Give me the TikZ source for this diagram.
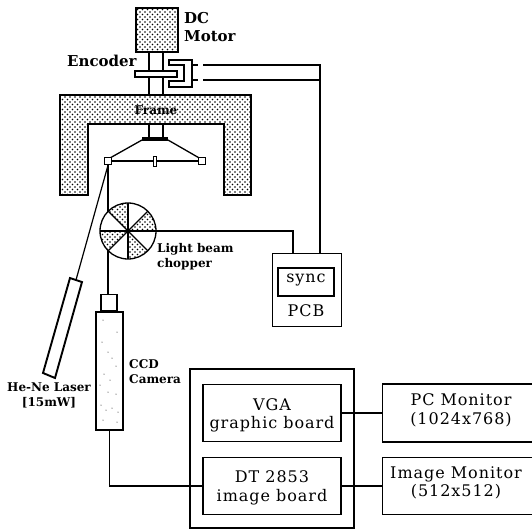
\documentclass[tikz,border=0pt]{standalone}
\usepackage{fontspec}
\setmainfont{DejaVu Serif}
\usetikzlibrary{patterns}
\pgfdeclarepatternformonly{coarsedots}{\pgfqpoint{-1pt}{-1pt}}{\pgfqpoint{5pt}{5pt}}{\pgfqpoint{5pt}{5pt}}{%
  \pgfpathcircle{\pgfqpoint{0pt}{0pt}}{0.85pt}%
  \pgfpathcircle{\pgfqpoint{2.5pt}{2.5pt}}{0.85pt}%
  \pgfusepath{fill}}
\tikzset{
  x=1pt,y=-1pt,
  heavy/.style={draw=black,line width=1.9pt},
  mid/.style={draw=black,line width=1.3pt},
  wire/.style={draw=black,line width=1.2pt},
  dots/.style={pattern=coarsedots,pattern color=black},
  lab/.style={inner sep=0pt,align=left,font=\bfseries\fontsize{12}{15}\selectfont},
  biglab/.style={inner sep=0pt,align=left,font=\bfseries\fontsize{15}{18}\selectfont},
  big/.style={inner sep=0pt,align=center,font=\fontsize{16}{18.5}\selectfont\addfontfeature{LetterSpace=6}},
}
\begin{document}
\begin{tikzpicture}
\useasboundingbox (0,0) rectangle (532,532);
% motor
\draw[heavy,dots] (136,8) rectangle (178,52);
\draw[mid] (149,52) -- (149,94) (163,52) -- (163,94);
% sensor
\draw[mid,fill=white] (169,60) -- (192,60) -- (192,87) -- (169,87) -- (169,81) -- (184,81) -- (184,65) -- (169,65) -- cycle;
\draw[mid] (192,65) -- (198,65) (192,80) -- (198,80);
\draw[mid,fill=white] (135,71) rectangle (177,77);
% frame
\draw[heavy,dots] (60,95) -- (251,95) -- (251,195) -- (224,195) -- (224,124) -- (88,124) -- (88,195) -- (60,195) -- cycle;
\node[inner sep=0pt,font=\bfseries\fontsize{12}{14}\selectfont] (frm) at (156,110) {Frame};
% suspension
\draw[mid] (149,124) -- (149,138) (163,124) -- (163,138);
\fill (142,137) rectangle (168,141);
\draw[mid] (142,140) -- (110,158) (168,140) -- (201,159);
\node[draw,line width=1pt,fill=white,minimum size=7.5pt,inner sep=0pt] (sl) at (108,161) {};
\node[draw,line width=1pt,fill=white,minimum size=7pt,inner sep=0pt] (sr) at (202,161) {};
\draw[mid] (sl) -- (sr);
\draw[line width=1pt,fill=white] (153.5,156) rectangle (156.5,166);
% laser, camera
\coordinate (lastop) at (76,280);
\node[mid,fill=white,minimum width=16pt,minimum height=16pt,inner sep=0pt,anchor=south] (lens) at (109,311) {};
\draw[wire] (sl.south) -- (lastop);
\draw[wire] (sl.south) -- (lens.north -| sl.south);
\draw[heavy,fill=white] (70,278) -- (82,282) -- (55,378) -- (43,373) -- cycle;
\node[heavy,fill=white,minimum width=27pt,minimum height=118pt,inner sep=0pt,anchor=north west] (cam) at (95,311) {};
\foreach \p in {(103,320),(117,332),(102,342),(108,352),(112,358),(116,366),(104,374),(110,380),(100,385),(108,392),(116,394),(101,405),(106,410),(112,408),(118,412),(103,420),(117,422)}
  \fill \p circle (0.5);
% chopper
\begin{scope}[shift={(128,231)},y=1pt]
  \fill[white] (0,0) circle (28);
  \foreach \a in {90,0,180,270}{
    \fill[pattern=coarsedots,pattern color=black] (0,0) -- (\a:28) arc[start angle=\a,delta angle=45,radius=28] -- cycle;
  }
  \foreach \a in {0,45,...,315}{\draw[mid] (0,0) -- (\a:28);}
  \draw[mid] (0,0) circle (28);
\end{scope}
% wires
\node[draw,line width=1.3pt,minimum width=69pt,minimum height=73pt,inner sep=0pt,anchor=north west] (pcb) at (272,253) {};
\coordinate (chopr) at (156,231);
\coordinate (wa) at (203,65);
\coordinate (wb) at (203,80);
\coordinate (wc) at (320,65);
\draw[wire] (chopr) -| (pcb.north -| 293,0);
\draw[wire] (wa) -- (wc) -- (wc |- pcb.north);
\draw[wire] (wb) -- (wb -| wc);
% pcb
\node[heavy,minimum width=56pt,minimum height=28pt,inner sep=0pt] (sync) at (306,282) {};
\node[big] (synct) at (306,280) {sync};
\node[big] (pcbt) at (306,311) {PCB};
% boxes
\draw[heavy] (190,369) rectangle (354,528);
\node[heavy,minimum width=138pt,minimum height=57pt,inner sep=0pt] (vga) at (272,413) {};
\node[heavy,minimum width=138pt,minimum height=57pt,inner sep=0pt] (dt) at (272,486) {};
\node[mid,minimum width=155pt,minimum height=58pt,inner sep=0pt,anchor=west] (pc) at (382,413) {};
\node[mid,minimum width=155pt,minimum height=57pt,inner sep=0pt,anchor=west] (im) at (382,486) {};
\node[big] (vgat) at (272,415.5) {VGA\\graphic board};
\node[big] (dtt) at (272,488) {DT 2853\\image board};
\node[big] (pct) at (461,410.5) {PC Monitor\\(1024x768)};
\node[big] (imt) at (456,483) {Image Monitor\\(512x512)};
\draw[wire] (vga) -- (pc);
\draw[wire] (dt) -- (im);
\draw[wire] (cam.south) |- (dt.west);
% labels
\node[biglab,anchor=west] (dc) at (184,27) {DC\\Motor};
\node[biglab,anchor=west] (enc) at (67,61) {Encoder};
\node[lab,anchor=west] (lb) at (157,257) {Light beam\\chopper};
\node[lab,anchor=west] (cc) at (129,372) {CCD\\Camera};
\node[lab,align=center] (hn) at (49,395) {He-Ne Laser\\{}[15mW]};
\end{tikzpicture}
\end{document}
